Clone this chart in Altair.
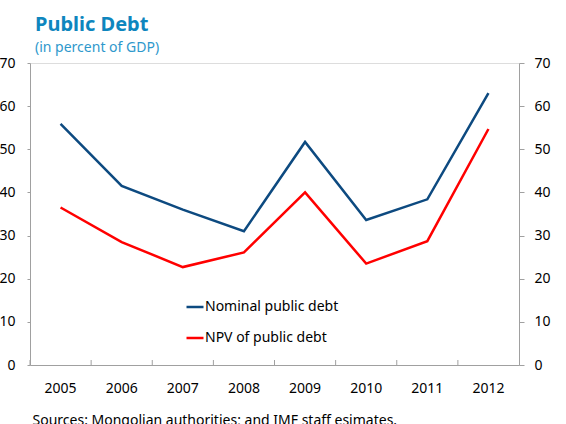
import altair as alt
import pandas as pd

years = ["2005", "2006", "2007", "2008", "2009", "2010", "2011", "2012"]
nominal = [55.9, 41.5, 36.0, 31.0, 51.7, 33.6, 38.4, 63.0]
npv = [36.5, 28.5, 22.7, 26.1, 40.0, 23.5, 28.7, 54.7]
series_names = ["Nominal public debt", "NPV of public debt"]
series_colors = ["#0d4a80", "#ff0000"]

rows = []
for y, v in zip(years, nominal):
    rows.append({"year": y, "value": v, "series": series_names[0]})
for y, v in zip(years, npv):
    rows.append({"year": y, "value": v, "series": series_names[1]})
df = pd.DataFrame(rows)
ticks_df = pd.DataFrame({"year": years})

FONT = "Noto Sans"
AX = "#a0a0a0"

xenc = alt.X(
    "year:O",
    bandPosition=0.5,
    scale=alt.Scale(type="band", paddingInner=0, paddingOuter=0),
    axis=alt.Axis(
        title="Sources: Mongolian authorities; and IMF staff esimates.",
        titleFont=FONT, titleFontSize=14, titleFontWeight="normal", titleColor="#000000",
        titleAnchor="start", titleAlign="left", titleBaseline="alphabetic",
        titleX=2, titleY=59,
        labelAngle=0, labelFont=FONT, labelFontSize=14, labelColor="#000000",
        labelPadding=16, ticks=False, domainColor=AX, grid=False,
    ),
)

yscale = alt.Scale(domain=[0, 70], nice=False)

lines = alt.Chart(df).mark_line(strokeWidth=2.5).encode(
    x=xenc,
    y=alt.Y(
        "value:Q", scale=yscale,
        axis=alt.Axis(
            orient="left", values=[0, 10, 20, 30, 40, 50, 60, 70], title=None,
            labelFont=FONT, labelFontSize=14, labelColor="#000000", labelPadding=12,
            tickSize=3, tickColor=AX, domainColor=AX, grid=False,
        ),
    ),
    color=alt.Color(
        "series:N",
        scale=alt.Scale(domain=series_names, range=series_colors),
        legend=alt.Legend(
            title=None, orient="none", legendX=155, legendY=234,
            symbolType="stroke", symbolSize=289, symbolStrokeWidth=2.5,
            labelFont=FONT, labelFontSize=14, labelColor="#000000",
            labelOffset=0, rowPadding=14,
        ),
    ),
)

right_axis = alt.Chart(df).mark_line(opacity=0).encode(
    x=alt.X("year:O", bandPosition=0.5),
    y=alt.Y(
        "value:Q", scale=yscale,
        axis=alt.Axis(
            orient="right", values=[0, 10, 20, 30, 40, 50, 60, 70], title=None,
            labelFont=FONT, labelFontSize=14, labelColor="#000000", labelPadding=10,
            tickSize=5, tickColor=AX, domainColor=AX, grid=False,
        ),
    ),
    detail="series:N",
)

xticks = alt.Chart(ticks_df).mark_rule(color=AX, strokeWidth=1).encode(
    x=alt.X("year:O", bandPosition=0),
    y=alt.value(302),
    y2=alt.value(297),
)

chart = (
    alt.layer(lines, right_axis, xticks)
    .resolve_scale(y="shared")
    .resolve_axis(y="independent")
    .properties(
        width=489, height=302,
        autosize=alt.AutoSizeParams(type="none"),
        padding={"left": 30, "top": 63, "right": 47, "bottom": 59},
        title=alt.TitleParams(
            text="Public Debt", subtitle="(in percent of GDP)",
            anchor="start", frame="group", dx=5,
            font=FONT, fontSize=20, fontWeight="bold", color="#0e86be",
            subtitleFont=FONT, subtitleFontSize=14, subtitleColor="#2e98cc",
            subtitlePadding=6, offset=1,
        ),
    )
    .configure_view(stroke="#b8b8b8")
    .configure(background="white")
)

chart.save("out.html", embed_options={"renderer": "svg", "actions": False})
